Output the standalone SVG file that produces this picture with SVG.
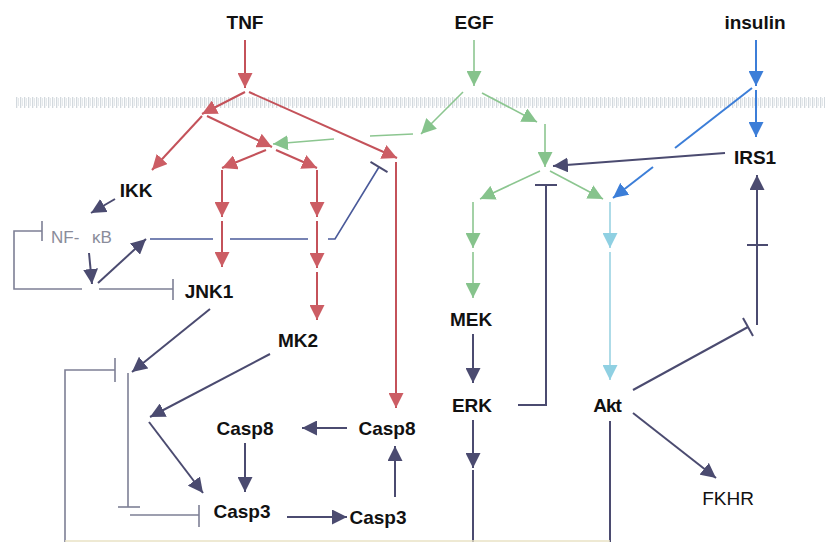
<svg xmlns="http://www.w3.org/2000/svg" width="825" height="542" viewBox="0 0 825 542">
<defs>
<pattern id="mem" x="0" y="0" width="4" height="12" patternUnits="userSpaceOnUse">
<rect x="0" y="0" width="1.3" height="12" fill="#d3d9de"/>
<rect x="2" y="2" width="1" height="8" fill="#e4e8eb"/>
</pattern>
<marker id="aR" viewBox="0 0 15 15" refX="15" refY="7.5" markerWidth="15" markerHeight="15" markerUnits="userSpaceOnUse" orient="auto"><path d="M0,0 L15,7.5 L0,15 z" fill="#cc5d64"/></marker>
<marker id="aG" viewBox="0 0 15 15" refX="15" refY="7.5" markerWidth="15" markerHeight="15" markerUnits="userSpaceOnUse" orient="auto"><path d="M0,0 L15,7.5 L0,15 z" fill="#86c38c"/></marker>
<marker id="aB" viewBox="0 0 15 15" refX="15" refY="7.5" markerWidth="15" markerHeight="15" markerUnits="userSpaceOnUse" orient="auto"><path d="M0,0 L15,7.5 L0,15 z" fill="#3c7ed8"/></marker>
<marker id="aL" viewBox="0 0 15 15" refX="15" refY="7.5" markerWidth="15" markerHeight="15" markerUnits="userSpaceOnUse" orient="auto"><path d="M0,0 L15,7.5 L0,15 z" fill="#8fd0e2"/></marker>
<marker id="aN" viewBox="0 0 15 15" refX="15" refY="7.5" markerWidth="15" markerHeight="15" markerUnits="userSpaceOnUse" orient="auto"><path d="M0,0 L15,7.5 L0,15 z" fill="#4b4b70"/></marker>
</defs>
<style>
.lbl{font-family:"Liberation Sans",Arial,sans-serif;font-size:19px;fill:#111;text-anchor:middle}
.b{font-weight:bold}
.r{stroke:#c4525a;stroke-width:2;fill:none}
.g{stroke:#8cc690;stroke-width:1.6;fill:none}
.bl{stroke:#3c7ed8;stroke-width:2;fill:none}
.lb{stroke:#9ad2e2;stroke-width:1.6;fill:none}
.n{stroke:#4b4b70;stroke-width:2;fill:none}
.gr{stroke:#7d7f95;stroke-width:1.6;fill:none}
.nb{stroke:#4a5a9a;stroke-width:1.6;fill:none}
</style>
<rect width="825" height="542" fill="#ffffff"/>
<rect id="membrane" x="15" y="97" width="810" height="11" fill="url(#mem)"/>

<g id="connectors">
<line class="r" x1="245" y1="40" x2="245" y2="88" marker-end="url(#aR)"/>
<line class="r" x1="245" y1="92" x2="202" y2="114" marker-end="url(#aR)"/>
<line class="r" x1="249" y1="92" x2="397" y2="158" marker-end="url(#aR)"/>
<line class="r" x1="396" y1="162" x2="396" y2="408" marker-end="url(#aR)"/>
<line class="r" x1="202" y1="116" x2="152" y2="170" marker-end="url(#aR)"/>
<line class="r" x1="207" y1="116" x2="272" y2="147" marker-end="url(#aR)"/>
<line class="r" x1="266" y1="150" x2="222" y2="168" marker-end="url(#aR)"/>
<line class="r" x1="276" y1="150" x2="317" y2="168" marker-end="url(#aR)"/>
<line class="r" x1="222" y1="170" x2="222" y2="217" marker-end="url(#aR)"/>
<line class="r" x1="222" y1="221" x2="222" y2="267" marker-end="url(#aR)"/>
<line class="r" x1="317" y1="170" x2="317" y2="217" marker-end="url(#aR)"/>
<line class="r" x1="317" y1="221" x2="317" y2="268" marker-end="url(#aR)"/>
<line class="r" x1="317" y1="272" x2="317" y2="320" marker-end="url(#aR)"/>
<line class="g" x1="474" y1="40" x2="474" y2="86" marker-end="url(#aG)"/>
<line class="g" x1="463" y1="92" x2="421" y2="134" marker-end="url(#aG)"/>
<line class="g" x1="482" y1="93" x2="537" y2="122" marker-end="url(#aG)"/>
<line class="g" x1="413" y1="134" x2="370" y2="136"/>
<line class="g" x1="334" y1="139" x2="273" y2="144" marker-end="url(#aG)"/>
<line class="g" x1="545" y1="124" x2="545" y2="167" marker-end="url(#aG)"/>
<line class="g" x1="540" y1="171" x2="480" y2="199" marker-end="url(#aG)"/>
<line class="g" x1="550" y1="171" x2="603" y2="199" marker-end="url(#aG)"/>
<line class="g" x1="473" y1="202" x2="473" y2="248" marker-end="url(#aG)"/>
<line class="g" x1="473" y1="252" x2="473" y2="298" marker-end="url(#aG)"/>
<line class="lb" x1="610" y1="202" x2="610" y2="248" marker-end="url(#aL)"/>
<line class="lb" x1="610" y1="252" x2="610" y2="380" marker-end="url(#aL)"/>
<line class="bl" x1="756" y1="40" x2="756" y2="86" marker-end="url(#aB)"/>
<line class="bl" x1="756" y1="90" x2="756" y2="137" marker-end="url(#aB)"/>
<line class="bl" x1="752" y1="88" x2="675" y2="148"/>
<line class="bl" x1="653" y1="167" x2="613" y2="198" marker-end="url(#aB)"/>
<line class="n" x1="725" y1="153" x2="553" y2="166" marker-end="url(#aN)"/>
<polyline class="n" points="518,405 546,405 546,185"/>
<line class="n" x1="535" y1="185" x2="557" y2="185"/>
<line class="n" x1="473" y1="334" x2="473" y2="383" marker-end="url(#aN)"/>
<line class="n" x1="473" y1="420" x2="473" y2="468" marker-end="url(#aN)"/>
<line class="n" x1="473" y1="470" x2="473" y2="542"/>
<line class="n" x1="610" y1="421" x2="610" y2="542"/>
<line class="n" x1="633" y1="413" x2="716" y2="478" marker-end="url(#aN)"/>
<line class="n" x1="633" y1="390" x2="748" y2="327"/>
<line class="n" x1="743" y1="318" x2="753" y2="336"/>
<line class="n" x1="757" y1="325" x2="757" y2="245"/>
<line class="n" x1="747" y1="245" x2="768" y2="245"/>
<line class="n" x1="757" y1="245" x2="757" y2="175" marker-end="url(#aN)"/>
<line class="n" x1="115" y1="199" x2="91" y2="213" marker-end="url(#aN)"/>
<line class="n" x1="89" y1="253" x2="92" y2="284" marker-end="url(#aN)"/>
<line class="n" x1="98" y1="283" x2="146" y2="239" marker-end="url(#aN)"/>
<line class="nb" x1="150" y1="239" x2="213" y2="239"/>
<line class="nb" x1="230" y1="239" x2="308" y2="239"/>
<polyline class="nb" points="328,239 335,239 379,167"/>
<line class="n" x1="370.5" y1="161.8" x2="387.5" y2="172.2"/>
<polyline class="gr" points="82,289 14,289 14,231 42,231"/>
<line class="gr" x1="42" y1="221" x2="42" y2="241"/>
<line class="gr" x1="99" y1="289" x2="173" y2="289"/>
<line class="gr" x1="173" y1="279" x2="173" y2="300"/>
<line class="n" x1="210" y1="309" x2="132" y2="372" marker-end="url(#aN)"/>
<polyline class="gr" points="65,542 65,370 115,370"/>
<line class="gr" x1="115" y1="358" x2="115" y2="382"/>
<line class="gr" x1="128" y1="373" x2="128" y2="507"/>
<line class="gr" x1="118" y1="507" x2="140" y2="507"/>
<line class="gr" x1="130" y1="515" x2="199" y2="515"/>
<line class="gr" x1="199" y1="505" x2="199" y2="527"/>
<line class="n" x1="270" y1="354" x2="150" y2="417" marker-end="url(#aN)"/>
<line class="n" x1="149" y1="422" x2="203" y2="493" marker-end="url(#aN)"/>
<line class="n" x1="347" y1="428" x2="302" y2="428" marker-end="url(#aN)"/>
<line class="n" x1="245" y1="443" x2="245" y2="492" marker-end="url(#aN)"/>
<line class="n" x1="287" y1="517" x2="347" y2="517" marker-end="url(#aN)"/>
<line class="n" x1="395" y1="497" x2="395" y2="446" marker-end="url(#aN)"/>
<line x1="65" y1="541" x2="610" y2="541" stroke="#e9e2c4" stroke-width="1.5"/>
</g>

<g id="TNF"><text class="lbl b" x="245" y="29">TNF</text></g>
<g id="EGF"><text class="lbl b" x="474" y="29">EGF</text></g>
<g id="insulin"><text class="lbl b" x="755" y="29">insulin</text></g>
<g id="IRS1"><text class="lbl b" x="755" y="164">IRS1</text></g>
<g id="IKK"><text class="lbl b" x="136" y="197">IKK</text></g>
<g id="NFkB"><text x="51" y="243" font-family="'Liberation Sans',Arial,sans-serif" font-size="17" fill="#8a8c9a">NF-<tspan x="92">κB</tspan></text></g>
<g id="JNK1"><text class="lbl b" x="209" y="298">JNK1</text></g>
<g id="MK2"><text class="lbl b" x="298" y="347">MK2</text></g>
<g id="MEK"><text class="lbl b" x="471" y="326">MEK</text></g>
<g id="ERK"><text class="lbl b" x="472" y="412">ERK</text></g>
<g id="Akt"><text class="lbl b" x="607" y="412" letter-spacing="-1">Akt</text></g>
<g id="FKHR"><text class="lbl" x="728" y="505">FKHR</text></g>
<g id="Casp8a"><text class="lbl b" x="245" y="435">Casp8</text></g>
<g id="Casp8b"><text class="lbl b" x="387" y="435">Casp8</text></g>
<g id="Casp3a"><text class="lbl b" x="242" y="518">Casp3</text></g>
<g id="Casp3b"><text class="lbl b" x="378" y="524">Casp3</text></g>
</svg>
